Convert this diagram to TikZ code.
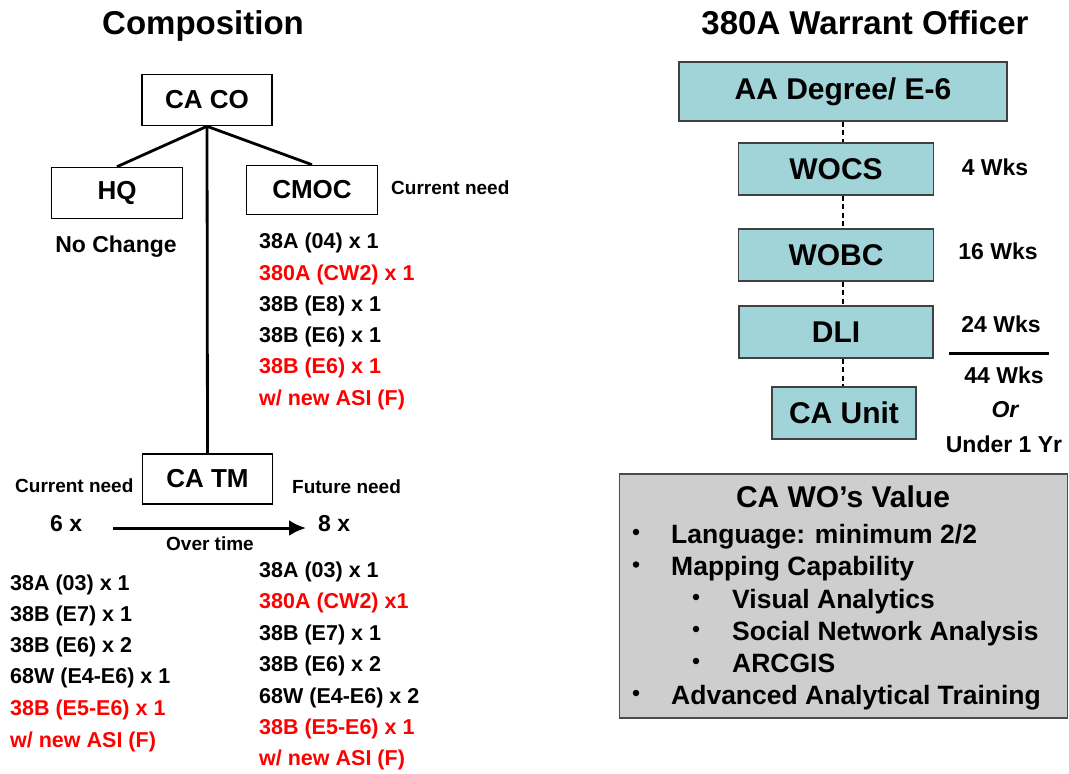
\documentclass[tikz,border=0pt]{standalone}
\usepackage{fontspec}
\setmainfont{Liberation Sans}
\usepackage{tikz}
\usetikzlibrary{arrows, arrows.meta, positioning}
\definecolor{wobox}{RGB}{160,212,216}
\definecolor{valuegray}{RGB}{206,206,206}
\definecolor{needred}{RGB}{255,0,0}
\tikzset{
    heading/.style = {anchor=base, inner sep=0pt, font=\fontsize{33}{38}\selectfont\bfseries},
    unitbox/.style = {rectangle, draw=black, line width=1.6pt, minimum width=130pt, minimum height=51pt, font=\fontsize{26}{30}\selectfont\bfseries},
    coursebox/.style = {rectangle, draw=black!75, fill=wobox, line width=1.3pt, minimum height=52pt, font=\fontsize{30}{34}\selectfont\bfseries},
    entry/.style = {anchor=base west, inner sep=0pt, font=\fontsize{21.5}{25}\selectfont\bfseries},
    newentry/.style = {entry, text=needred},
    note/.style = {anchor=base west, inner sep=0pt, font=\fontsize{19}{22}\selectfont\bfseries},
    weeks/.style = {anchor=base, inner sep=0pt, font=\fontsize{23}{27}\selectfont\bfseries},
    tree/.style = {line width=2.8pt},
    trail/.style = {line width=1.8pt, dash pattern=on 5pt off 3.5pt},
    valuebox/.style = {rectangle, draw=black!70, fill=valuegray, line width=1.3pt, minimum width=448pt, minimum height=244pt},
    valueitem/.style = {anchor=base west, inner sep=0pt, font=\fontsize{26.5}{30}\selectfont\bfseries},
    dot/.style = {circle, fill=black, inner sep=0pt, minimum size=6.5pt}
}

\begin{document}
\begin{tikzpicture}[x=1pt, y=-1pt]
    \useasboundingbox (0,0) rectangle (1069,774);

    \node[heading] (comp) at (203,34) {Composition};
    \node[heading] (warrant) at (865,34) {380A Warrant Officer};

    \node[unitbox] (caco) at (207,100) {CA CO};
    \node[unitbox, minimum width=131pt] (hq) at (117,193) {HQ};
    \node[unitbox, minimum width=131pt, minimum height=49pt] (cmoc) at (312,190) {CMOC};
    \node[unitbox, minimum height=50pt] (catm) at (207.5,479) {CA TM};

    \draw[tree] (caco.south) -- (hq.north);
    \draw[tree] (caco.south) -- (cmoc.north);
    \draw[tree] (caco.south) -- (catm.north);

    \node[weeks, font=\fontsize{23}{27}\selectfont\bfseries] (nochange) at (116,252) {No Change};
    \node[note] (cmocneed) at (391,194) {Current need};

    \node[entry] (c1) at (259,248) {38A (04) x 1};
    \node[newentry] (c2) at (259,280) {380A (CW2) x 1};
    \node[entry] (c3) at (259,311) {38B (E8) x 1};
    \node[entry] (c4) at (259,342) {38B (E6) x 1};
    \node[newentry] (c5) at (259,373) {38B (E6) x 1};
    \node[newentry] (c6) at (259,405) {w/ new ASI (F)};

    \node[note] (curneed) at (15,492) {Current need};
    \node[note] (futneed) at (292,493) {Future need};
    \node[weeks, anchor=base west] (six) at (50,531) {6 x};
    \node[weeks, anchor=base west] (eight) at (318,531) {8 x};
    \coordinate (tfrom) at (113,528);
    \coordinate (tto) at (306,528);
    \draw[line width=3pt, -{Latex[length=17pt, width=16pt]}] (tfrom) -- (tto);
    \node[note, anchor=base] (overtime) at (210,550) {Over time};

    \node[entry] (n1) at (10,590) {38A (03) x 1};
    \node[entry] (n2) at (10,621) {38B (E7) x 1};
    \node[entry] (n3) at (10,652) {38B (E6) x 2};
    \node[entry] (n4) at (10,683) {68W (E4-E6) x 1};
    \node[newentry] (n5) at (10,715) {38B (E5-E6) x 1};
    \node[newentry] (n6) at (10,747) {w/ new ASI (F)};

    \node[entry] (f1) at (259,577) {38A (03) x 1};
    \node[newentry] (f2) at (259,608) {380A (CW2) x1};
    \node[entry] (f3) at (259,640) {38B (E7) x 1};
    \node[entry] (f4) at (259,671) {38B (E6) x 2};
    \node[entry] (f5) at (259,703) {68W (E4-E6) x 2};
    \node[newentry] (f6) at (259,734) {38B (E5-E6) x 1};
    \node[newentry] (f7) at (259,765) {w/ new ASI (F)};

    \node[coursebox, minimum width=328pt, minimum height=59pt] (aa) at (843,91.5) {AA Degree/ E-6};
    \node[coursebox, minimum width=195pt] (wocs) at (836,169) {WOCS};
    \node[coursebox, minimum width=195pt] (wobc) at (836,255) {WOBC};
    \node[coursebox, minimum width=194pt] (dli) at (836,332) {DLI};
    \node[coursebox, minimum width=144pt] (caunit) at (844,413) {CA Unit};

    \draw[trail] (aa.south) -- (aa.south |- wocs.north);
    \draw[trail] (aa.south |- wocs.south) -- (aa.south |- wobc.north);
    \draw[trail] (aa.south |- wobc.south) -- (aa.south |- dli.north);
    \draw[trail] (aa.south |- dli.south) -- (aa.south |- caunit.north);

    \node[weeks] (w4) at (995,175) {4 Wks};
    \node[weeks] (w16) at (998,259) {16 Wks};
    \node[weeks] (w24) at (1001,332) {24 Wks};
    \coordinate (sumL) at (949,353);
    \coordinate (sumR) at (1049,353);
    \draw[line width=3pt] (sumL) -- (sumR);
    \node[weeks] (w44) at (1004,383) {44 Wks};
    \node[weeks, font=\fontsize{23}{27}\selectfont\bfseries\itshape] (orword) at (1005,417) {Or};
    \node[weeks] (year) at (1004,452) {Under 1 Yr};

    \node[valuebox] (value) at (843.5,596) {};
    \node[heading, font=\fontsize{30}{34}\selectfont\bfseries] (valtitle) at (843,507) {CA WO’s Value};
    \node[dot] (d1) at (636,532) {};
    \node[valueitem] (v1) at (671,543) {Language: minimum 2/2};
    \node[dot] (d2) at (636,564.5) {};
    \node[valueitem] (v2) at (671,575.5) {Mapping Capability};
    \node[dot] (d3) at (696,597) {};
    \node[valueitem] (v3) at (732,608) {Visual Analytics};
    \node[dot] (d4) at (696,629) {};
    \node[valueitem] (v4) at (732,640) {Social Network Analysis};
    \node[dot] (d5) at (696,661) {};
    \node[valueitem] (v5) at (732,672) {ARCGIS};
    \node[dot] (d6) at (636,693) {};
    \node[valueitem] (v6) at (671,704) {Advanced Analytical Training};
\end{tikzpicture}
\end{document}
